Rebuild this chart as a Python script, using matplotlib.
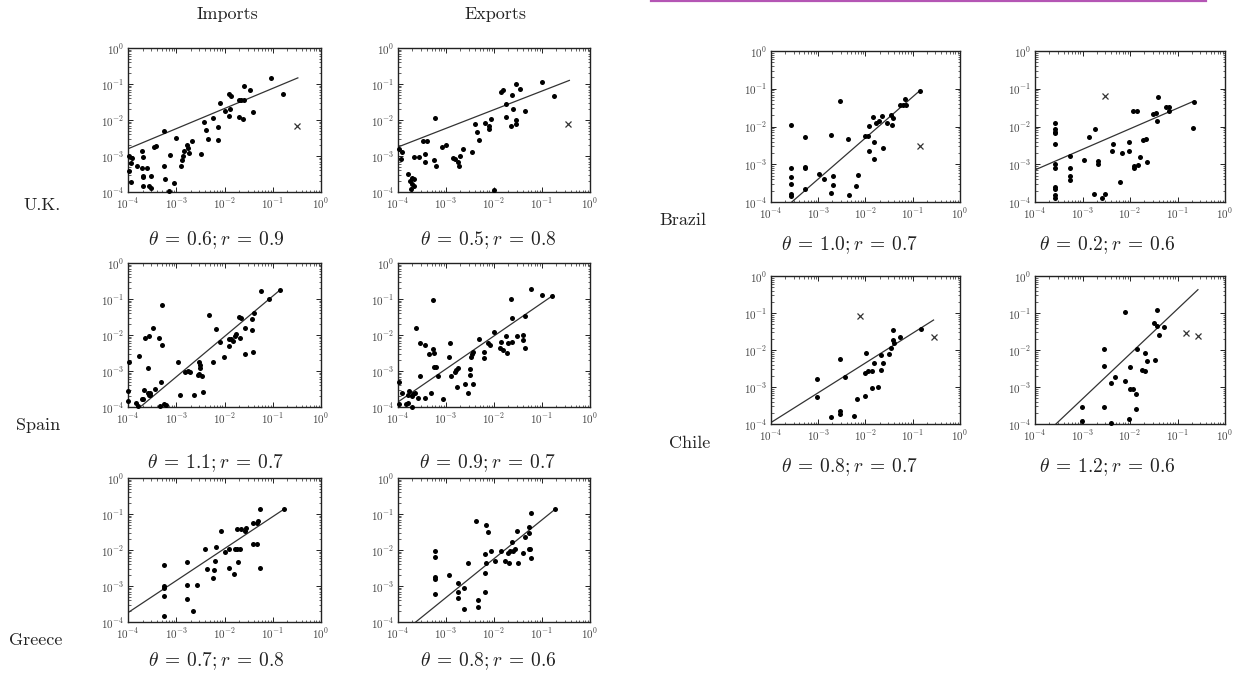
import numpy as np
import matplotlib
matplotlib.use("Agg")
import matplotlib.pyplot as plt
from matplotlib.ticker import FixedLocator, FixedFormatter, LogLocator, NullFormatter

plt.rcParams['mathtext.fontset'] = 'cm'
plt.rcParams['font.family'] = ['cmr10', 'DejaVu Serif']
plt.rcParams['axes.unicode_minus'] = False

# ---------------- data (log10 values) ----------------
uk_imp_x = [-1.03, -0.79, -1.59, -1.47, -1.40, -1.91, -1.86, -2.10, -1.88, -1.98, -1.70, -1.66, -1.59,
            -1.70, -1.61, -1.90, -2.43, -2.23, -2.14, -2.14, -2.39, -2.34, -2.48, -2.68, -2.77, -2.73,
            -2.83, -2.76, -3.00, -2.88, -2.86, -2.90, -3.12, -3.25, -3.43, -3.46, -3.26, -3.23, -3.05,
            -3.15, -3.71, -3.69, -3.71, -3.69, -3.68, -3.60, -3.81, -3.92, -3.93, -3.97, -3.94, -3.52,
            -3.57, -3.69, -3.52, -3.98]
uk_imp_y = [-0.83, -1.28, -1.05, -1.16, -1.78, -1.27, -1.34, -1.53, -1.69, -1.76, -1.44, -1.44, -1.44,
            -1.92, -1.96, -1.88, -2.06, -1.94, -2.19, -2.55, -2.29, -2.52, -2.94, -2.57, -2.69, -2.92,
            -2.87, -2.78, -2.50, -3.10, -2.99, -3.27, -2.96, -2.31, -2.71, -2.75, -3.29, -3.64, -3.75,
            -3.97, -2.85, -3.03, -3.33, -3.55, -3.59, -3.33, -3.27, -3.06, -3.19, -3.43, -3.73, -3.56,
            -3.84, -3.84, -3.89, -3.01]
uk_imp_out = ([-0.50], [-2.18])
uk_imp_fit = ([-4.0, -0.48], [-2.80, -0.83])

uk_exp_x = [-1.00, -0.75, -1.55, -1.45, -1.86, -1.82, -1.63, -1.76, -1.76, -1.60, -1.64, -1.54, -1.55,
            -1.35, -2.40, -2.36, -2.31, -2.19, -2.10, -2.10, -2.06, -2.45, -2.64, -2.70, -2.82, -2.85,
            -2.75, -2.72, -2.99, -3.09, -3.23, -3.21, -3.25, -3.39, -3.48, -3.44, -3.43, -3.56, -3.67,
            -3.93, -3.97, -3.91, -3.79, -3.76, -3.70, -3.67, -3.70, -3.72, -3.67, -2.00]
uk_exp_y = [-0.94, -1.32, -0.99, -1.13, -1.22, -1.16, -1.31, -1.55, -1.93, -1.69, -2.18, -1.99, -2.11,
            -1.75, -2.11, -2.33, -2.56, -2.08, -2.16, -2.25, -1.97, -2.90, -2.81, -2.99, -3.07, -3.06,
            -3.18, -3.29, -2.69, -2.76, -1.94, -3.27, -3.12, -2.59, -2.57, -2.94, -3.18, -3.03, -3.03,
            -3.08, -2.81, -2.90, -3.49, -3.70, -3.61, -3.63, -3.78, -3.92, -3.82, -3.94]
uk_exp_out = ([-0.46], [-2.11])
uk_exp_fit = ([-4.0, -0.43], [-2.75, -0.90])

es_imp_x = [-1.24, -0.84, -1.07, -1.38, -1.43, -1.43, -1.41, -1.69, -1.66, -1.57, -1.67, -1.76, -1.58,
            -1.79, -1.86, -1.91, -1.83, -1.90, -2.02, -2.10, -2.17, -2.33, -2.24, -2.52, -2.50, -2.50,
            -2.52, -2.55, -2.47, -2.45, -2.64, -2.76, -2.81, -2.72, -2.97, -2.93, -3.30, -3.29, -3.32,
            -3.36, -3.48, -3.57, -3.64, -3.59, -3.78, -3.97, -4.00, -3.99, -3.83, -3.79, -3.72, -3.68,
            -3.66, -3.59, -3.57, -3.55, -3.45, -3.34, -3.26, -3.22, -3.54]
es_imp_y = [-0.77, -0.74, -1.00, -1.38, -1.55, -1.86, -2.48, -1.49, -1.52, -1.80, -2.07, -1.98, -2.53,
            -2.03, -2.11, -2.12, -2.17, -2.30, -2.62, -2.20, -1.83, -1.44, -2.76, -2.76, -2.84, -2.93,
            -3.07, -3.12, -3.13, -3.58, -3.66, -3.00, -3.04, -3.04, -2.76, -3.67, -1.16, -2.28, -3.30,
            -2.07, -1.81, -2.03, -2.09, -2.93, -2.58, -2.76, -3.56, -3.83, -3.89, -3.97, -3.79, -3.79,
            -3.53, -3.60, -3.66, -3.60, -3.49, -3.97, -3.93, -3.95, -3.67]
es_imp_out = ([], [])
es_imp_fit = ([-3.72, -0.84], [-3.97, -0.74])

es_exp_x = [-1.23, -1.00, -0.79, -1.65, -1.62, -1.35, -1.39, -1.35, -1.40, -1.53, -1.76, -1.70, -1.63,
            -1.86, -1.81, -1.72, -1.87, -2.00, -2.13, -2.08, -2.21, -2.21, -2.31, -2.43, -2.45, -2.47,
            -2.50, -2.50, -2.43, -2.61, -2.54, -2.75, -2.82, -2.80, -2.91, -2.93, -2.90, -2.78, -3.06,
            -3.16, -3.20, -3.25, -3.28, -3.28, -3.25, -3.35, -3.32, -3.44, -3.55, -3.55, -3.63, -3.44,
            -3.58, -3.69, -3.70, -3.77, -3.79, -3.83, -3.79, -3.70, -3.91, -3.97, -3.98, -3.65]
es_exp_y = [-0.71, -0.89, -0.91, -1.01, -1.52, -1.48, -2.00, -2.35, -2.15, -2.02, -2.04, -2.21, -2.19,
            -2.19, -2.42, -2.49, -2.35, -1.93, -2.23, -2.29, -2.47, -2.64, -2.10, -2.48, -2.54, -2.61,
            -2.95, -3.11, -3.36, -3.36, -3.62, -2.92, -3.04, -2.96, -2.23, -2.61, -3.15, -3.45, -3.79,
            -3.13, -2.90, -2.90, -1.02, -2.38, -2.51, -2.54, -3.62, -2.29, -2.21, -3.13, -1.81, -3.76,
            -3.74, -3.64, -3.70, -3.55, -3.67, -3.91, -3.89, -4.00, -3.62, -3.31, -3.91, -3.60]
es_exp_out = ([], [])
es_exp_fit = ([-4.0, -0.76], [-3.86, -0.89])

gr_imp_x = [-0.76, -1.26, -1.40, -1.30, -1.32, -1.55, -1.57, -1.74, -1.66, -2.07, -1.41, -1.32, -1.27,
            -1.91, -1.79, -1.74, -1.68, -1.72, -1.99, -1.90, -1.81, -2.17, -2.19, -2.22, -2.23, -2.36,
            -2.41, -2.57, -2.78, -2.78, -2.78, -2.66, -3.26, -3.26, -3.26, -3.26, -3.26]
gr_imp_y = [-0.86, -0.87, -1.24, -1.19, -1.26, -1.40, -1.46, -1.43, -1.42, -1.46, -1.82, -1.82, -2.49,
            -1.98, -1.96, -1.98, -1.96, -2.33, -2.05, -2.49, -2.68, -1.91, -2.30, -2.56, -2.77, -2.54,
            -1.96, -2.96, -2.33, -2.96, -3.37, -3.70, -2.42, -3.01, -3.05, -3.27, -3.83]
gr_imp_out = ([], [])
gr_imp_fit = ([-4.0, -0.76], [-3.74, -0.86])

gr_exp_x = [-0.72, -1.23, -1.27, -1.27, -1.25, -1.23, -1.28, -1.35, -1.39, -1.53, -1.56, -1.51, -1.63,
            -1.60, -1.67, -1.70, -1.68, -1.77, -1.86, -1.97, -2.07, -2.17, -2.13, -2.17, -2.19, -2.19,
            -2.19, -2.38, -2.33, -2.33, -2.54, -2.63, -2.63, -2.75, -2.75, -2.75, -2.93, -3.23, -3.23,
            -3.23, -3.23, -3.23]
gr_exp_y = [-0.86, -0.98, -1.35, -1.54, -1.96, -2.21, -1.98, -1.65, -2.07, -1.46, -1.97, -2.35, -1.79,
            -2.02, -2.04, -2.07, -2.37, -2.30, -2.03, -2.30, -2.02, -2.35, -1.49, -1.31, -2.11, -2.65,
            -3.18, -1.19, -3.58, -3.38, -2.37, -3.65, -3.05, -2.92, -3.16, -3.32, -2.70, -2.02, -2.19,
            -2.75, -2.81, -3.22]
gr_exp_out = ([], [])
gr_exp_fit = ([-3.63, -0.72], [-4.0, -0.86])

br_imp_x = [-0.85, -1.16, -1.26, -1.20, -1.15, -1.47, -1.41, -1.43, -1.54, -1.66, -1.71, -1.85, -1.83,
            -1.78, -1.62, -1.92, -1.92, -1.82, -2.01, -1.94, -2.54, -2.38, -2.15, -2.21, -2.35, -2.68,
            -2.68, -2.74, -2.74, -2.88, -2.98, -3.28, -3.28, -3.28, -3.28, -3.58, -3.58, -3.58, -3.58,
            -3.58, -3.58]
br_imp_y = [-1.05, -1.28, -1.42, -1.42, -1.42, -1.70, -1.78, -1.96, -1.92, -1.72, -1.85, -1.76, -2.40,
            -1.92, -2.58, -1.99, -2.66, -2.86, -2.25, -2.25, -1.33, -2.33, -3.28, -3.57, -3.81, -3.31,
            -3.54, -3.76, -2.22, -3.39, -3.25, -2.29, -3.06, -3.10, -3.65, -1.96, -3.10, -3.34, -3.52,
            -3.79, -3.83]
br_imp_out = ([-0.85], [-2.51])
br_imp_fit = ([-3.56, -0.85], [-4.0, -1.05])

br_exp_x = [-0.66, -0.68, -1.41, -1.24, -1.17, -1.17, -1.45, -1.43, -1.52, -1.85, -1.94, -1.66, -1.73,
            -1.64, -1.78, -1.83, -1.92, -1.92, -2.02, -2.02, -2.17, -2.22, -2.36, -2.38, -2.53, -2.58,
            -2.73, -2.76, -2.87, -2.67, -2.67, -2.97, -3.27, -3.27, -3.27, -3.27, -3.57, -3.57, -3.57,
            -3.57, -3.57, -3.57, -3.57, -3.57, -3.57, -3.57, -3.57]
br_exp_y = [-1.35, -2.05, -1.21, -1.49, -1.49, -1.59, -1.65, -1.85, -1.67, -1.58, -1.59, -2.34, -2.37,
            -2.95, -2.81, -3.02, -3.04, -3.10, -2.40, -2.65, -2.71, -3.48, -2.46, -2.64, -3.78, -3.89,
            -2.07, -3.78, -2.29, -2.91, -2.99, -2.90, -2.78, -3.10, -3.32, -3.41, -1.90, -2.07, -2.14,
            -2.18, -2.47, -2.99, -3.09, -3.59, -3.65, -3.82, -3.89]
br_exp_out = ([-2.53], [-1.20])
br_exp_fit = ([-4.0, -0.64], [-3.15, -1.32])

cl_imp_x = [-0.83, -1.28, -1.42, -1.41, -1.39, -1.47, -1.50, -1.68, -1.68, -1.64, -1.83, -1.74, -1.87,
            -1.94, -2.02, -1.99, -1.87, -2.02, -2.19, -2.24, -2.43, -2.55, -2.55, -2.55, -2.72, -3.02,
            -3.02]
cl_imp_y = [-1.43, -1.66, -1.46, -1.73, -1.80, -1.94, -2.11, -2.13, -2.54, -2.34, -2.34, -3.01, -2.57,
            -2.58, -2.63, -2.07, -3.03, -3.24, -3.33, -3.79, -2.74, -2.24, -3.66, -3.72, -3.81, -2.78,
            -3.26]
cl_imp_out = ([-2.12, -0.55], [-1.09, -1.66])
cl_imp_fit = ([-4.0, -0.56], [-3.96, -1.19])

cl_exp_x = [-2.11, -1.43, -1.50, -1.43, -1.29, -1.39, -1.85, -1.68, -1.64, -1.47, -1.75, -1.69, -1.99,
            -2.11, -2.01, -1.94, -1.87, -1.87, -2.02, -2.32, -2.41, -2.55, -2.55, -2.55, -2.41, -3.02,
            -3.02]
cl_exp_y = [-0.97, -0.91, -1.26, -1.35, -1.37, -1.60, -1.97, -2.07, -2.30, -2.27, -2.54, -2.58, -2.45,
            -2.83, -3.06, -3.06, -3.19, -3.60, -3.87, -2.74, -2.88, -1.98, -2.43, -3.55, -3.98, -3.55,
            -3.91]
cl_exp_out = ([-0.82, -0.57], [-1.53, -1.62])
cl_exp_fit = ([-3.56, -0.57], [-4.0, -0.37])

theta_vals = ['0.6', '0.5', '1.1', '0.9', '0.7', '0.8', '1.0', '0.2', '0.8', '1.2']
r_vals = ['0.9', '0.8', '0.7', '0.7', '0.8', '0.6', '0.7', '0.6', '0.7', '0.6']
col_titles = ['Imports', 'Exports']
row_labels = ['U.K.', 'Spain', 'Greece', 'Brazil', 'Chile']
decades = [-4, -3, -2, -1, 0]
tick_labels = [r'$10^{-4}$', r'$10^{-3}$', r'$10^{-2}$', r'$10^{-1}$', r'$10^{0}$']

# ---------------- layout ----------------
W, H = 1236, 674
fig = plt.figure(figsize=(W / 100, H / 100), dpi=100)

# pixel boxes: left, top, right, bottom
boxes = [
    (128, 48, 321, 192), (398, 48, 590, 192),
    (128, 263, 321, 407), (398, 263, 590, 407),
    (128, 478, 321, 622), (398, 478, 590, 622),
    (771, 51, 960, 202), (1035, 51, 1225, 202),
    (771, 276, 960, 424), (1035, 276, 1225, 424),
]
caption_pos = [(216, 240), (488, 240), (216, 463), (488, 463), (216, 661), (488, 661),
               (850, 245), (1107, 245), (850, 467), (1107, 467)]

panels = [
    (uk_imp_x, uk_imp_y, uk_imp_out, uk_imp_fit),
    (uk_exp_x, uk_exp_y, uk_exp_out, uk_exp_fit),
    (es_imp_x, es_imp_y, es_imp_out, es_imp_fit),
    (es_exp_x, es_exp_y, es_exp_out, es_exp_fit),
    (gr_imp_x, gr_imp_y, gr_imp_out, gr_imp_fit),
    (gr_exp_x, gr_exp_y, gr_exp_out, gr_exp_fit),
    (br_imp_x, br_imp_y, br_imp_out, br_imp_fit),
    (br_exp_x, br_exp_y, br_exp_out, br_exp_fit),
    (cl_imp_x, cl_imp_y, cl_imp_out, cl_imp_fit),
    (cl_exp_x, cl_exp_y, cl_exp_out, cl_exp_fit),
]

tick_color = '#444444'
for (l, t, r, b), (px, py, out, fit), th, rv, cpos in zip(boxes, panels, theta_vals, r_vals, caption_pos):
    ax = fig.add_axes([l / W, 1 - b / H, (r - l) / W, (b - t) / H])
    ax.set_xscale('log')
    ax.set_yscale('log')
    ax.set_xlim(1e-4, 1)
    ax.set_ylim(1e-4, 1)
    ax.plot(10 ** np.array(fit[0]), 10 ** np.array(fit[1]), color='#333333', lw=0.9, zorder=2)
    ax.plot(10 ** np.array(px), 10 ** np.array(py), 'o', color='black', ms=3.6, mew=0, zorder=3,
            clip_on=False)
    if out[0]:
        ax.plot(10 ** np.array(out[0]), 10 ** np.array(out[1]), 'x', color='#333333', ms=5, mew=0.9,
                zorder=3)
    ticks = [10.0 ** d for d in decades]
    for axis in (ax.xaxis, ax.yaxis):
        axis.set_major_locator(FixedLocator(ticks))
        axis.set_major_formatter(FixedFormatter(tick_labels))
        axis.set_minor_locator(LogLocator(base=10, subs=np.arange(2, 10), numticks=20))
        axis.set_minor_formatter(NullFormatter())
    ax.tick_params(which='both', direction='in', top=True, right=True, colors='#222222',
                   labelcolor=tick_color, labelsize=8, pad=3)
    ax.tick_params(which='major', length=3.5, width=0.7)
    ax.tick_params(which='minor', length=1.8, width=0.5)
    for s in ax.spines.values():
        s.set_linewidth(1.0)
        s.set_color('#222222')
    cap = r'$\theta\:=\:%s;r\:=\:%s$' % (th, rv)
    fig.text(cpos[0] / W, 1 - cpos[1] / H, cap, ha='center', va='center', fontsize=14, color='#222222')

# column titles and row labels
for txt, x in zip(col_titles, [227, 495]):
    fig.text(x / W, 1 - 14 / H, txt, ha='center', va='center', fontsize=13, color='#222222')
for txt, (x, y) in zip(row_labels, [(42, 205), (38, 425), (36, 640), (683, 220), (690, 443)]):
    fig.text(x / W, 1 - y / H, txt, ha='center', va='center', fontsize=13, color='#222222')

# magenta rule at the top right
fig.add_artist(plt.Line2D([651 / W, 1206 / W], [1 - 0.8 / H, 1 - 0.8 / H], color='#b455b4', lw=1.6))

fig.savefig('out.png', dpi=100)
